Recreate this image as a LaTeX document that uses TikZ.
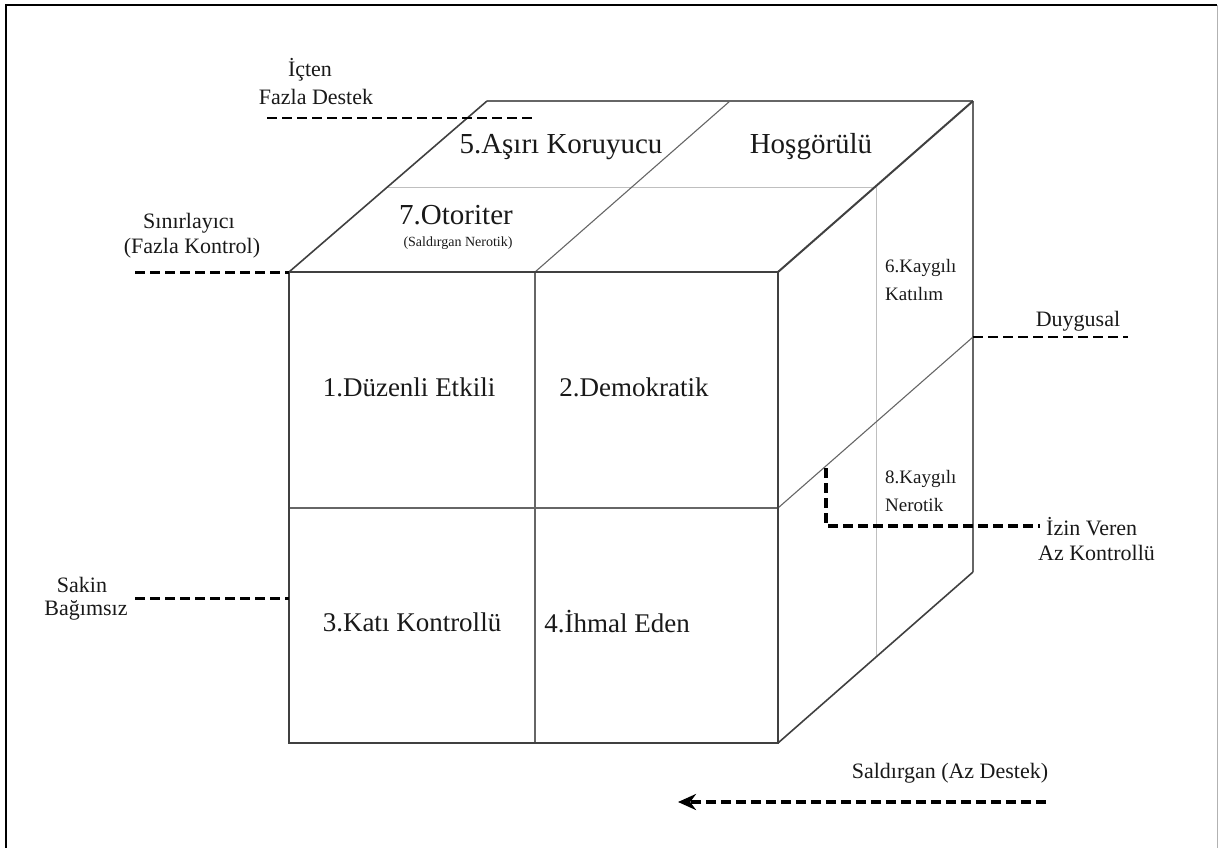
\documentclass[tikz,border=0pt]{standalone}
\usepackage{fontspec}
\setmainfont{Liberation Serif}
\usetikzlibrary{arrows.meta}
\begin{document}
\begin{tikzpicture}[x=1pt,y=-1pt,
  edge/.style={draw=black!75,line width=2.4pt},
  thin/.style={draw=black!60,line width=1.1pt},
  faint/.style={draw=black!25,line width=1pt},
  dsh/.style={draw=black,line width=3pt,dash pattern=on 10pt off 5pt},
  lbl/.style={inner sep=0pt,text=black!90},
  big/.style={lbl,font=\fontsize{27}{30}\selectfont},
  top/.style={lbl,font=\fontsize{29}{32}\selectfont},
  mid/.style={lbl,font=\fontsize{22}{25}\selectfont,align=center},
  rgt/.style={lbl,font=\fontsize{19}{22}\selectfont,anchor=west},
  small/.style={lbl,font=\fontsize{14}{16}\selectfont}]
\useasboundingbox (0,0) rectangle (1218,848);
% frame
\draw[line width=2.4pt] (6,848) -- (6,5) -- (1217,5);
\draw[black!30,line width=1pt] (1217,5) -- (1217,848);
% cube corners
\coordinate (A) at (289,272); \coordinate (B) at (778,272);
\coordinate (C) at (778,743); \coordinate (D) at (289,743);
\coordinate (E) at (487,101); \coordinate (F) at (973,101);
\coordinate (G) at (973,572);
\coordinate (Mt) at (535,272); \coordinate (Mb) at (535,743);
\coordinate (Ml) at (289,508); \coordinate (Mr) at (778,508);
\coordinate (Tm) at (730,101);
\coordinate (Rm) at (973,337);
\coordinate (Hl) at (387,187); \coordinate (Hr) at (876,187);
\coordinate (Vb) at (876,657);
% faint lines
\draw[faint] (Hl) -- (Hr) -- (Vb);
% thin lines
\draw[thin] (E) -- (F);
\draw[thin] (Mt) -- (Tm);
\draw[thin] (Mr) -- (Rm);
\draw[thin,line width=1.5pt] (Mt) -- (Mb);
\draw[thin,line width=1.5pt] (Ml) -- (Mr);
\draw[thin,line width=1.4pt] (F) -- (G);
% edges
\draw[edge] (A) -- (B) -- (C) -- (D) -- cycle;
\draw[edge,line width=1.6pt] (A) -- (E);
\draw[edge,line width=2pt] (B) -- (F);
\draw[edge,line width=1.6pt] (C) -- (G);
% dashed leaders
\coordinate (d1s) at (267,118); \coordinate (d1e) at (535,118);
\draw[dsh,line width=2.4pt] (d1s) -- (d1e);
\coordinate (d2s) at (135,272);
\draw[dsh] (d2s) -- (A);
\coordinate (d3s) at (135,598); \coordinate (d3e) at (289,598);
\draw[dsh] (d3s) -- (d3e);
\coordinate (d4e) at (1128,337);
\draw[dsh,line width=2pt] (Rm) -- (d4e);
\coordinate (d5a) at (826,468); \coordinate (d5b) at (826,526); \coordinate (d5c) at (1040,526);
\draw[dsh,line width=3.4pt] (d5a) -- (d5b) -- (d5c);
\coordinate (d6s) at (1046,802); \coordinate (d6e) at (678,802);
\draw[dsh,line width=3.2pt,-{Stealth[length=18pt,width=16pt]}] (d6s) -- (d6e);
% face labels
\node[big] (n1) at (409,387) {1.Düzenli Etkili};
\node[big] (n2) at (634,387) {2.Demokratik};
\node[big] (n3) at (412,622) {3.Katı Kontrollü};
\node[big] (n4) at (617,622) {4.İhmal Eden};
\node[top] (n5) at (561,147) {5.Aşırı Koruyucu};
\node[top] (nh) at (811,147) {Hoşgörülü};
\node[top] (n7) at (456,215) {7.Otoriter};
\node[small] (n7s) at (458,243) {(Saldırgan Nerotik)};
\node[rgt] (n6a) at (885,268) {6.Kaygılı};
\node[rgt] (n6b) at (885,294) {Katılım};
\node[rgt] (n8a) at (885,479) {8.Kaygılı};
\node[rgt] (n8b) at (885,505) {Nerotik};
% side labels
\node[mid] (l1a) at (310,70) {İçten};
\node[mid] (l1b) at (316,97) {Fazla Destek};
\node[mid] (l2a) at (189,223) {Sınırlayıcı};
\node[mid] (l2b) at (192,248) {(Fazla Kontrol)};
\node[mid] (l3a) at (82,585) {Sakin};
\node[mid] (l3b) at (86,610) {Bağımsız};
\node[mid] (l4) at (1078,321) {Duygusal};
\node[mid,anchor=west] (l5a) at (1046,527) {İzin Veren};
\node[mid,anchor=west] (l5b) at (1038,553) {Az Kontrollü};
\node[mid] (l6) at (950,773) {Saldırgan (Az Destek)};
\end{tikzpicture}
\end{document}
